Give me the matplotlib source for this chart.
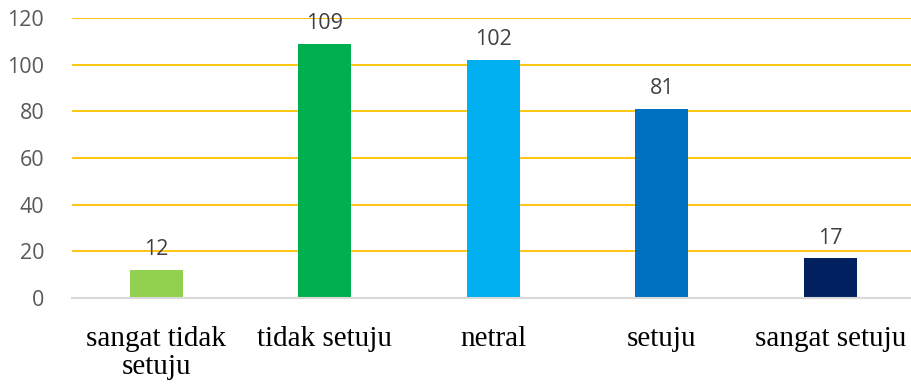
import matplotlib
matplotlib.use("Agg")
import matplotlib.pyplot as plt

categories = ["sangat tidak\nsetuju", "tidak setuju", "netral", "setuju", "sangat setuju"]
values = [12, 109, 102, 81, 17]
colors = ["#92D050", "#00B050", "#00B0F0", "#0070C0", "#002060"]
yticks = [0, 20, 40, 60, 80, 100, 120]

fig = plt.figure(figsize=(9.12, 3.85), dpi=100)
ax = fig.add_axes([72/912, (385-298)/385, 1 - 72/912 + 0.003, 280/385])

x = list(range(len(categories)))
bars = ax.bar(x, values, width=0.315, color=colors, zorder=3)
ax.set_xlim(-0.5, 4.5)
ax.set_ylim(0, 120)
ax.set_yticks(yticks)
ax.set_yticklabels([str(t) for t in yticks], fontfamily="Open Sans", fontsize=15.5, color="#595959")
ax.set_xticks(x)
ax.set_xticklabels(categories, fontfamily="Liberation Serif", fontsize=21, color="#000000", linespacing=1.13)
ax.tick_params(axis="both", length=0)
ax.tick_params(axis="x", pad=20)
ax.tick_params(axis="y", pad=20)

for yv in yticks[1:]:
    ax.axhline(yv, color="#FFC000", lw=1.3, zorder=1)
for s in ["top", "right", "left"]:
    ax.spines[s].set_visible(False)
ax.spines["bottom"].set_color("#D9D9D9")
ax.spines["bottom"].set_linewidth(1.5)
ax.spines["bottom"].set_zorder(4)

for xi, v in zip(x, values):
    ax.annotate(str(v), (xi, v), xytext=(0, 7), textcoords="offset points",
                ha="center", va="bottom", fontfamily="Open Sans", fontsize=15.5, color="#404040", zorder=5)

fig.savefig("out.png", dpi=100)
